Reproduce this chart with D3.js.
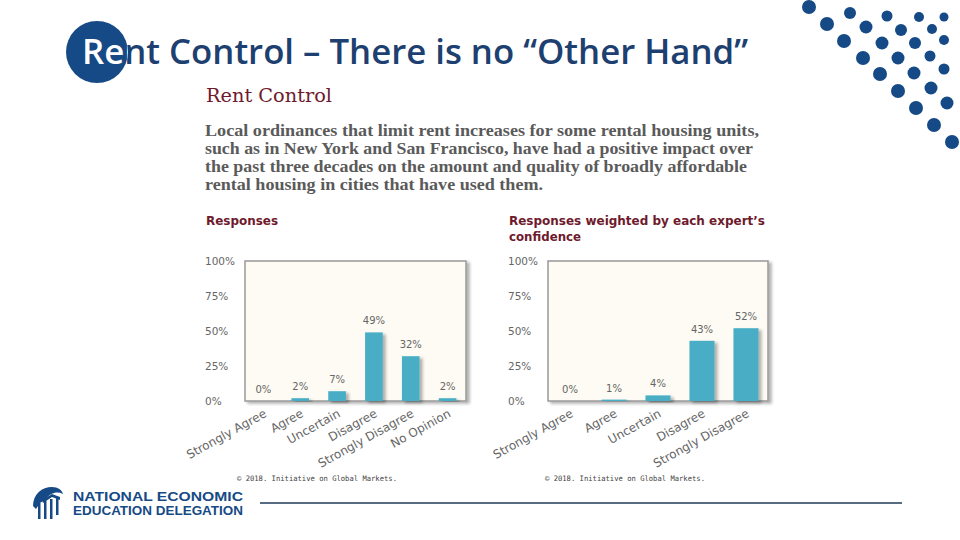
<!DOCTYPE html>
<html>
<head>
<meta charset="utf-8">
<script src="https://cdn.jsdelivr.net/npm/d3@7"></script>
<style>
  html, body { margin: 0; padding: 0; background: #fff; overflow: hidden; }
</style>
</head>
<body>
<div id="visualization"></div>
<script>
const navy = '#164a86'
const maroon = '#6e1a2c'
const barColor = '#4aaec5'
const grey = '#666'

// chart data
const catsAll = ['Strongly Agree', 'Agree', 'Uncertain', 'Disagree', 'Strongly Disagree', 'No Opinion']
const valsAll = [0, 2, 7, 49, 32, 2]
const catsWeighted = ['Strongly Agree', 'Agree', 'Uncertain', 'Disagree', 'Strongly Disagree']
const valsWeighted = [0, 1, 4, 43, 52]
const yTicks = [0, 25, 50, 75, 100]

const slideTitle = 'Rent Control \u2013 There is no \u201cOther Hand\u201d'
const panelTitle = 'Rent Control'
const bodyLines = [
  'Local ordinances that limit rent increases for some rental housing units,',
  'such as in New York and San Francisco, have had a positive impact over',
  'the past three decades on the amount and quality of broadly affordable',
  'rental housing in cities that have used them.'
]
const copyright = '\u00a9 2018. Initiative on Global Markets.'

// decorative dot pattern (top right) [x, y, r]
const dots = [
  [809, 7, 7], [850, 13, 6], [887, 16, 5.5], [919, 17, 5], [944, 17, 4.5],
  [827, 24, 7], [866, 27, 6.5], [901, 30, 6], [932, 29, 5],
  [844, 41, 7], [882, 43, 6.5], [915, 43, 6], [944, 40, 5],
  [863, 58, 7], [898, 58, 6.5], [930, 56, 5.5],
  [880, 74, 7], [914, 73, 6.5], [944, 69, 5.5],
  [898, 91, 7], [931, 88, 6.5],
  [916, 108, 7], [947, 103, 6.5],
  [934, 125, 7], [952, 142, 7]
]

const svg = d3.select('#visualization').append('svg')
  .attr('width', 960)
  .attr('height', 540)

const defs = svg.append('defs')
const shadow = defs.append('filter').attr('id', 'shadow')
  .attr('x', '-20%').attr('y', '-20%').attr('width', '150%').attr('height', '150%')
shadow.append('feDropShadow')
  .attr('dx', 3).attr('dy', 2).attr('stdDeviation', 1.5)
  .attr('flood-color', '#000').attr('flood-opacity', 0.3)

defs.append('clipPath').attr('id', 'circleClip')
  .append('circle').attr('cx', 97).attr('cy', 52).attr('r', 31)

// slide header
svg.append('circle').attr('cx', 97).attr('cy', 52).attr('r', 31).attr('fill', navy)

const titleAttrs = sel => sel
  .attr('x', 82).attr('y', 64)
  .attr('font-family', '"Open Sans", sans-serif')
  .attr('font-weight', 600)
  .attr('font-size', 35)
  .attr('textLength', 666)
  .attr('lengthAdjust', 'spacingAndGlyphs')
  .text(slideTitle)

svg.append('text').call(titleAttrs).attr('fill', '#1d4070')
svg.append('text').call(titleAttrs).attr('fill', '#fff').attr('clip-path', 'url(#circleClip)')

svg.append('g').selectAll('circle').data(dots).join('circle')
  .attr('cx', d => d[0]).attr('cy', d => d[1]).attr('r', d => d[2])
  .attr('fill', navy)

// panel text
svg.append('text')
  .attr('x', 206).attr('y', 102)
  .attr('font-family', '"DejaVu Serif", serif')
  .attr('font-size', 19)
  .attr('textLength', 126)
  .attr('lengthAdjust', 'spacingAndGlyphs')
  .attr('fill', maroon)
  .text(panelTitle)

const bodyWidths = [554, 548, 542, 338]
svg.append('g').selectAll('text').data(bodyLines).join('text')
  .attr('x', 205)
  .attr('y', (d, i) => 136 + i * 18)
  .attr('font-family', '"Liberation Serif", serif')
  .attr('font-weight', 'bold')
  .attr('font-size', 16)
  .attr('textLength', (d, i) => bodyWidths[i])
  .attr('lengthAdjust', 'spacingAndGlyphs')
  .attr('fill', '#5a5a5a')
  .text(d => d)

function barChart ({ cats, vals, x0, x1, title, titleWidths, labelX, copyX }) {
  const top = 261
  const bottom = 401
  const g = svg.append('g')

  g.selectAll('text.title').data(title).join('text')
    .attr('class', 'title')
    .attr('x', labelX + 1)
    .attr('y', (d, i) => 225 + i * 16)
    .attr('font-family', '"DejaVu Sans", Verdana, sans-serif')
    .attr('font-weight', 'bold')
    .attr('font-size', 12)
    .attr('textLength', (d, i) => titleWidths[i])
    .attr('lengthAdjust', 'spacingAndGlyphs')
    .attr('fill', maroon)
    .text(d => d)

  const x = d3.scaleBand()
    .domain(cats)
    .range([x0, x1])
    .paddingInner(cats.length === 6 ? 0.52 : 0.43)
    .paddingOuter(cats.length === 6 ? 0.26 : 0.215)

  const y = d3.scaleLinear().domain([0, 100]).range([bottom, top])

  g.append('rect')
    .attr('x', x0).attr('y', top)
    .attr('width', x1 - x0).attr('height', bottom - top)
    .attr('fill', '#fdfbf3')
    .attr('stroke', '#999')
    .attr('stroke-width', 1.5)
    .attr('filter', 'url(#shadow)')

  const yAxis = g.append('g')
    .attr('transform', `translate(${x0},0)`)
    .call(d3.axisLeft(y).tickValues(yTicks).tickSize(0).tickFormat(d => d + '%'))
  yAxis.select('.domain').remove()
  yAxis.selectAll('text')
    .attr('x', labelX - x0)
    .attr('text-anchor', 'start')
    .attr('font-family', '"DejaVu Sans", Verdana, sans-serif')
    .attr('font-size', 10.5)
    .attr('fill', grey)

  g.selectAll('rect.bar').data(vals).join('rect')
    .attr('class', 'bar')
    .attr('x', (d, i) => x(cats[i]))
    .attr('y', d => y(d))
    .attr('width', x.bandwidth())
    .attr('height', d => bottom - y(d))
    .attr('fill', barColor)
    .attr('filter', 'url(#shadow)')

  g.selectAll('text.value').data(vals).join('text')
    .attr('class', 'value')
    .attr('x', (d, i) => x(cats[i]) + x.bandwidth() / 2)
    .attr('y', d => y(d) - 8)
    .attr('text-anchor', 'middle')
    .attr('font-family', '"DejaVu Sans", Verdana, sans-serif')
    .attr('font-size', 10)
    .attr('fill', grey)
    .text(d => d + '%')

  const xAxis = g.append('g')
    .attr('transform', `translate(0,${bottom})`)
    .call(d3.axisBottom(x).tickSize(0))
  xAxis.select('.domain').remove()
  xAxis.selectAll('text')
    .attr('text-anchor', 'end')
    .attr('dy', 0)
    .attr('y', 0)
    .attr('transform', 'translate(4,15) rotate(-29)')
    .attr('font-family', '"DejaVu Sans", Verdana, sans-serif')
    .attr('font-size', 12)
    .attr('fill', grey)

  g.append('text')
    .attr('x', copyX).attr('y', 481)
    .attr('font-family', '"DejaVu Sans Mono", monospace')
    .attr('font-size', 7.5)
    .attr('textLength', 160)
    .attr('lengthAdjust', 'spacingAndGlyphs')
    .attr('fill', '#444')
    .text(copyright)
}

barChart({
  cats: catsAll,
  vals: valsAll,
  x0: 245,
  x1: 466,
  title: ['Responses'],
  titleWidths: [72],
  labelX: 205,
  copyX: 237
})

barChart({
  cats: catsWeighted,
  vals: valsWeighted,
  x0: 548,
  x1: 768,
  title: ['Responses weighted by each expert\u2019s', 'confidence'],
  titleWidths: [256, 72],
  labelX: 508,
  copyX: 545
})

// footer
svg.append('line')
  .attr('x1', 260).attr('x2', 902)
  .attr('y1', 503).attr('y2', 503)
  .attr('stroke', '#1f3b5a').attr('stroke-width', 1.5)

const logo = svg.append('g').attr('fill', navy)
logo.append('path')
  .attr('d', 'M33,506 C33,494 42,487 52,487 C58,487 62,490 63,494 C57,491 50,493 46,499 L40,503 L36,509 Z')
;[38, 44, 50, 56].forEach((bx, i) => {
  logo.append('rect')
    .attr('x', bx).attr('y', 503 - i * 2)
    .attr('width', 2.5).attr('height', 16 + i * 2 - (i === 3 ? 4 : 0))
})
logo.append('path').attr('d', 'M42,500 L52,494 L60,497 L60,500 L52,497 L43,503 Z')

const logoLines = ['NATIONAL ECONOMIC', 'EDUCATION DELEGATION']
svg.append('g').selectAll('text').data(logoLines).join('text')
  .attr('x', 73)
  .attr('y', (d, i) => 501 + i * 14)
  .attr('font-family', '"Liberation Sans", Arial, sans-serif')
  .attr('font-weight', 'bold')
  .attr('font-size', 12)
  .attr('textLength', 170)
  .attr('lengthAdjust', 'spacingAndGlyphs')
  .attr('fill', navy)
  .text(d => d)
</script>
</body>
</html>
